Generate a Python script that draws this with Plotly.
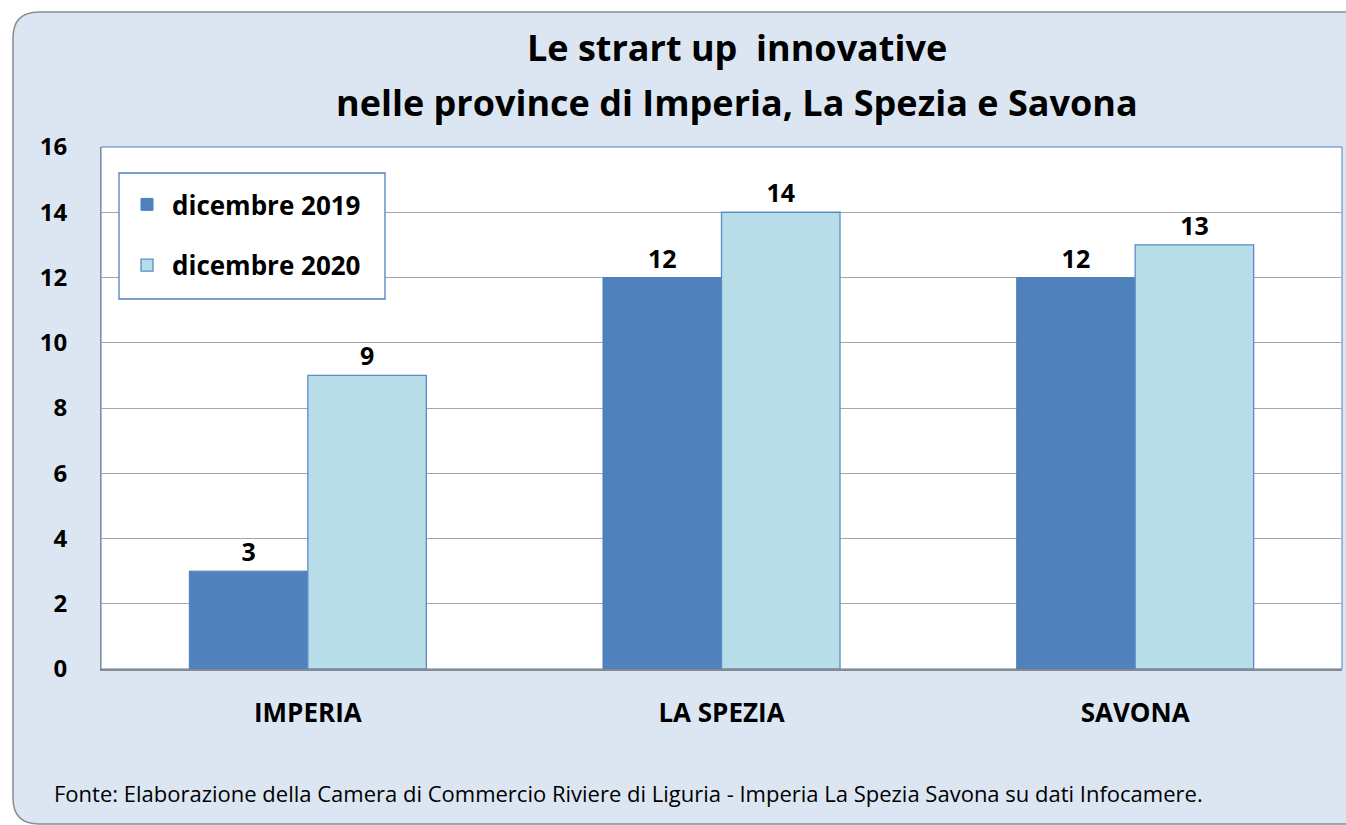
import plotly.graph_objects as go

categories = ["IMPERIA", "LA SPEZIA", "SAVONA"]
series_names = ["dicembre 2019", "dicembre 2020"]
values_2019 = [3, 12, 12]
values_2020 = [9, 14, 13]
y_ticks = [0, 2, 4, 6, 8, 10, 12, 14, 16]
title_lines = ["Le strart up  innovative", "nelle province di Imperia, La Spezia e Savona"]
source_text = ("Fonte: Elaborazione della Camera di Commercio Riviere di Liguria - "
               "Imperia La Spezia Savona su dati Infocamere.")

W, H = 1346, 825
L, R, T, B = 101, 1342, 147, 669  # plot area in pixels

def px(x):
    return (x - L) / (R - L)

def py(y):
    return (B - y) / (B - T)

FONT = "Open Sans"
fig = go.Figure()
fig.add_trace(go.Bar(
    x=categories, y=values_2019, name=series_names[0],
    marker=dict(color="#4F81BD", line=dict(color="#4F81BD", width=1)),
    text=values_2019, textposition="outside", cliponaxis=False,
    textfont=dict(family=FONT, size=25, color="black", weight="bold"),
    legendgroup="a",
))
fig.add_trace(go.Bar(
    x=categories, y=values_2020, name=series_names[1],
    marker=dict(color="#B7DDE8", line=dict(color="#5B8CC8", width=1.3)),
    text=values_2020, textposition="outside", cliponaxis=False,
    textfont=dict(family=FONT, size=25, color="black", weight="bold"),
    legendgroup="b",
))

# rounded background box
x0, y0, x1, y1, r = 13, 12, 1372, 824, 26
path = (f"M {px(x0+r)},{py(y0)} L {px(x1-r)},{py(y0)} "
        f"Q {px(x1)},{py(y0)} {px(x1)},{py(y0+r)} L {px(x1)},{py(y1-r)} "
        f"Q {px(x1)},{py(y1)} {px(x1-r)},{py(y1)} L {px(x0+r)},{py(y1)} "
        f"Q {px(x0)},{py(y1)} {px(x0)},{py(y1-r)} L {px(x0)},{py(y0+r)} "
        f"Q {px(x0)},{py(y0)} {px(x0+r)},{py(y0)} Z")
shapes = [
    dict(type="path", xref="paper", yref="paper", path=path, layer="below",
         fillcolor="#DCE6F2", line=dict(color="#8C8C8C", width=1.5)),
    dict(type="rect", xref="paper", yref="paper", x0=0, y0=0, x1=1, y1=1,
         layer="below", fillcolor="white", line=dict(color="#4F81BD", width=1)),
    # legend frame
    dict(type="rect", xref="paper", yref="paper", x0=px(119), y0=py(299), x1=px(385), y1=py(173),
         layer="above", fillcolor="white", line=dict(color="#4F81BD", width=1.3)),
]

fig.update_layout(
    width=W, height=H,
    margin=dict(l=L, r=W - R, t=T, b=H - B, pad=0),
    paper_bgcolor="white", plot_bgcolor="rgba(0,0,0,0)",
    barmode="group", bargap=0.427, bargroupgap=0,
    shapes=shapes,
    showlegend=True,
    legend=dict(x=px(122), y=py(181), xanchor="left", yanchor="top",
                bgcolor="rgba(0,0,0,0)", borderwidth=0,
                font=dict(family=FONT, size=26, color="black", weight="bold"),
                traceorder="grouped", tracegroupgap=24,
                itemwidth=40),
    font=dict(family=FONT, color="black"),
)

fig.update_xaxes(
    showline=True, linecolor="#898989", linewidth=2,
    tickfont=dict(family=FONT, size=26, color="black", weight="bold"),
    ticks="", ticklabelstandoff=20, showgrid=False,
)
fig.update_yaxes(
    range=[0, 16], tickvals=y_ticks, showline=True, linecolor="#898989", linewidth=1,
    gridcolor="#A6A6A6", gridwidth=1, zeroline=False,
    tickfont=dict(family=FONT, size=24, color="black", weight="bold"),
    ticks="", ticklabelstandoff=28,
)

for line, ypix in zip(title_lines, [48, 103]):
    fig.add_annotation(
        text=line, xref="paper", yref="paper", x=px(737), y=py(ypix),
        xanchor="center", yanchor="middle", showarrow=False,
        font=dict(family=FONT, size=36, color="black", weight="bold"),
    )
fig.add_annotation(
    text=source_text,
    xref="paper", yref="paper", x=px(52), y=py(793), xanchor="left", yanchor="middle",
    showarrow=False, font=dict(family=FONT, size=22, color="black"),
)

fig.write_html("out.html", config={"displayModeBar": False},
               post_script="document.body.style.margin='0';document.body.style.overflow='hidden';")
